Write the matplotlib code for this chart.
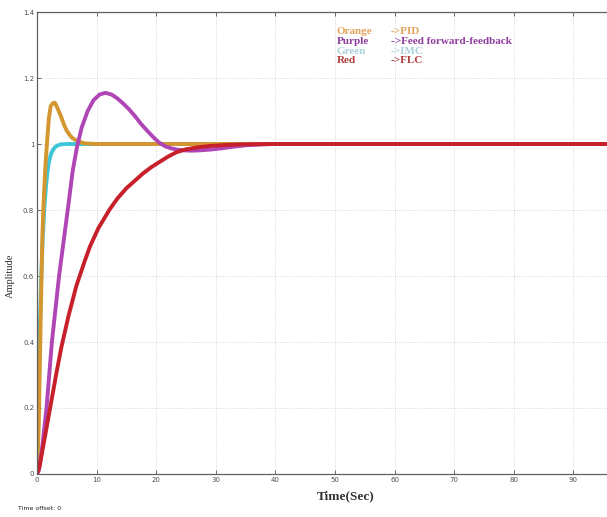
"""Step responses of the four controllers (PID, feed forward-feedback,
IMC and FLC), drawn in the style of a MATLAB scope window."""

import matplotlib
matplotlib.use('Agg')
import matplotlib.pyplot as plt

# PID (orange)
pid_t = [0, 0.3, 0.6, 0.9, 1.1, 1.4, 1.7, 2.0, 2.3, 2.7, 3.0, 3.4, 4.0,
         4.5, 5.0, 5.5, 6.0, 7.0, 8.0, 10, 100]
pid_y = [0, 0.15, 0.45, 0.72, 0.82, 0.93, 1.01, 1.08, 1.115, 1.124, 1.125,
         1.11, 1.085, 1.06, 1.04, 1.027, 1.017, 1.007, 1.002, 1.0, 1.0]

# feed forward-feedback (purple)
ff_t = [0, 0.3, 0.8, 1.6, 2.5, 3.1, 3.7, 4.5, 5.3, 6.0, 6.7, 7.5, 8.5,
        9.5, 10.5, 11.5, 12.5, 13.5, 14.5, 15.5, 16.5, 17.5, 18.5, 19.5,
        20.5, 21.5, 22.5, 23.5, 24.5, 25.5, 26.5, 27.5, 29, 31, 33, 35,
        38, 40, 100]
ff_y = [0, 0.01, 0.07, 0.2, 0.4, 0.5, 0.6, 0.71, 0.82, 0.92, 0.99, 1.05,
        1.10, 1.133, 1.15, 1.155, 1.15, 1.138, 1.122, 1.104, 1.083, 1.06,
        1.04, 1.021, 1.004, 0.993, 0.987, 0.983, 0.981, 0.98, 0.98,
        0.981, 0.983, 0.987, 0.992, 0.996, 0.999, 1.0, 1.0]

# IMC (cyan)
imc_t = [0, 0.25, 0.5, 0.75, 1.0, 1.25, 1.5, 1.75, 2.0, 2.3, 2.6, 3.0,
         3.5, 4.0, 5.0, 100]
imc_y = [0, 0.25, 0.46, 0.62, 0.73, 0.81, 0.87, 0.915, 0.945, 0.967,
         0.98, 0.99, 0.996, 0.999, 1.0, 1.0]

# FLC (red)
flc_t = [0, 0.4, 1.2, 2.2, 3.3, 4.1, 5.3, 6.6, 8.0, 8.9, 10.3, 12.2,
         13.5, 15.0, 16.5, 17.8, 19.2, 20.6, 22.0, 23.4, 25.0, 27.0,
         29.0, 31.5, 34.6, 40.0, 100]
flc_y = [0, 0.02, 0.1, 0.2, 0.31, 0.385, 0.48, 0.57, 0.645, 0.69, 0.745,
         0.802, 0.835, 0.866, 0.89, 0.911, 0.93, 0.946, 0.962, 0.975,
         0.984, 0.99, 0.994, 0.997, 0.999, 1.0, 1.0]

xticks = list(range(0, 100, 10))
yticks = [0, 0.2, 0.4, 0.6, 0.8, 1, 1.2, 1.4]
ytick_labels = ['0', '0.2', '0.4', '0.6', '0.8', '1', '1.2', '1.4']

legend_names = ['Orange', 'Purple', 'Green', 'Red']
legend_targets = ['->PID', '->Feed forward-feedback', '->IMC', '->FLC']
legend_colors = ['#E3A45C', '#8E3C9E', '#A9D2DA', '#B23C3C']


def create_step_plot(filepath):
    fig = plt.figure(figsize=(6.07, 5.17), dpi=100, facecolor='white')
    # the scope window is cut off on the right, so the axes run past the edge
    ax = fig.add_axes([37 / 607, 1 - 474 / 517, 596 / 607, 462 / 517])

    ax.plot(imc_t, imc_y, color='#3EC6D6', lw=2.8, solid_capstyle='round')
    ax.plot(pid_t, pid_y, color='#D4962E', lw=2.8, solid_capstyle='round')
    ax.plot(ff_t, ff_y, color='#B046B6', lw=2.8, solid_capstyle='round')
    ax.plot(flc_t, flc_y, color='#C8202A', lw=2.8, solid_capstyle='round')

    ax.set_xlim(0, 100)
    ax.set_ylim(0, 1.4)
    ax.set_xticks(xticks)
    ax.set_yticks(yticks)
    ax.set_yticklabels(ytick_labels)
    ax.tick_params(direction='in', length=3, width=0.6, colors='#505050',
                   labelsize=5, pad=2, top=True)
    ax.grid(True, linestyle=':', linewidth=0.6, color='#cfcfcf')
    for side in ['left', 'bottom', 'top', 'right']:
        ax.spines[side].set_color('#606060')
        ax.spines[side].set_linewidth(0.9)

    ax.set_xlabel('Time(Sec)', family='Liberation Serif', fontsize=9.5,
                  fontweight='bold', color='#303030')
    ax.xaxis.set_label_coords(0.518, -0.035)
    ax.set_ylabel('Amplitude', family='Liberation Serif', fontsize=7.5,
                  color='#303030')
    ax.yaxis.set_label_coords(-0.037, 0.43)

    # colour key typed into the plot
    rows = [1.3415, 1.3112, 1.2809, 1.2524]
    for name, target, col, yy in zip(legend_names, legend_targets,
                                     legend_colors, rows):
        ax.text(50.3, yy, name, color=col, family='Liberation Serif',
                fontsize=8, fontweight='bold', va='center')
        ax.text(59.4, yy, target, color=col, family='Liberation Serif',
                fontsize=8, fontweight='bold', va='center')

    fig.text(18 / 607, 1 - 508 / 517, 'Time offset: 0', fontsize=4.5,
             color='#202020', va='center')

    fig.savefig(filepath, dpi=100, facecolor='white')


create_step_plot('out.png')
